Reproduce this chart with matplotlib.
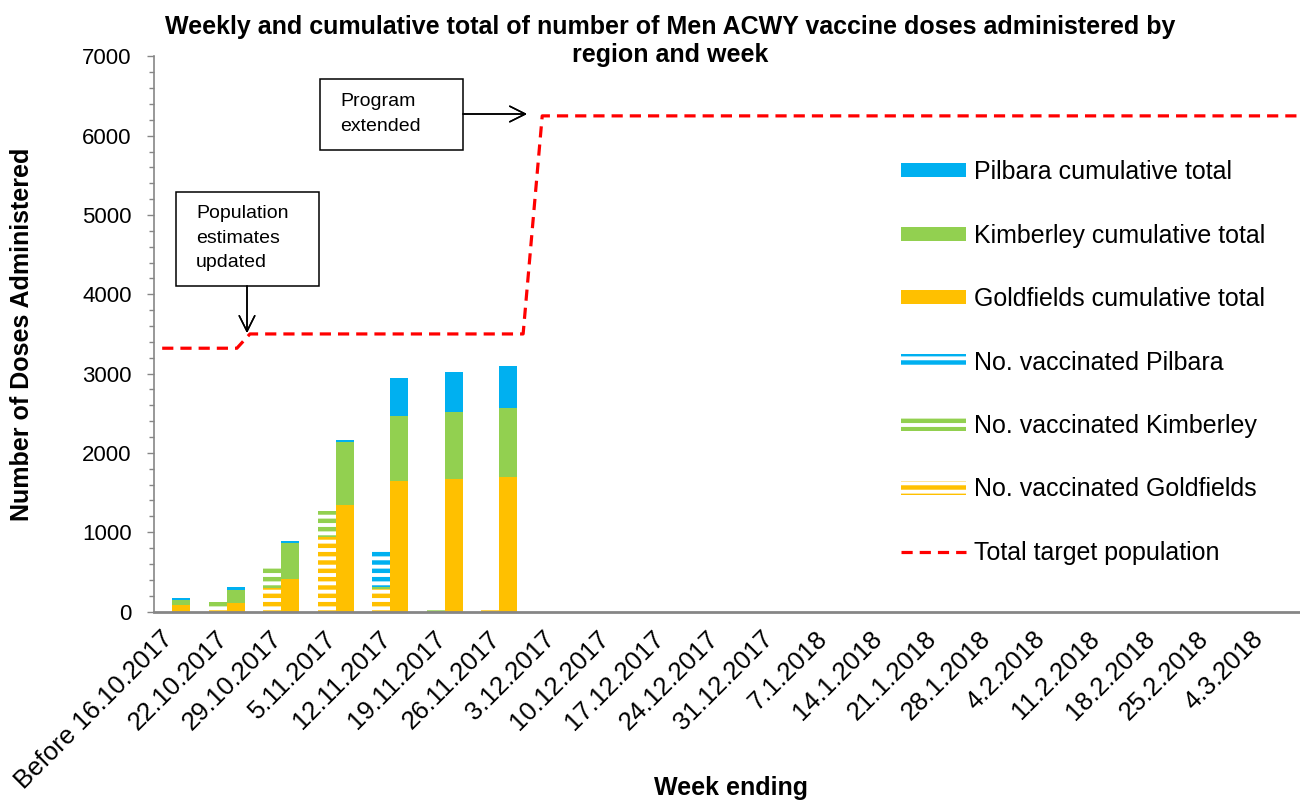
import numpy as np
import matplotlib.pyplot as plt
import matplotlib.transforms as mtransforms
from matplotlib.patches import Patch, Rectangle
from matplotlib.lines import Line2D

plt.rcParams['font.family'] = ['Liberation Sans', 'DejaVu Sans']
plt.rcParams['hatch.linewidth'] = 3.2

weeks = ['Before 16.10.2017', '22.10.2017', '29.10.2017', '5.11.2017', '12.11.2017',
         '19.11.2017', '26.11.2017', '3.12.2017', '10.12.2017', '17.12.2017',
         '24.12.2017', '31.12.2017', '7.1.2018', '14.1.2018', '21.1.2018',
         '28.1.2018', '4.2.2018', '11.2.2018', '18.2.2018', '25.2.2018', '4.3.2018']

# weeks with data so far (first 7)
gold_weekly = [0, 30, 295, 935, 290, 0, 25]
kimb_weekly = [0, 85, 287, 335, 25, 25, 0]
pilb_weekly = [0, 0, 0, 0, 460, 0, 0]

gold_cum = [80, 107, 406, 1343, 1645, 1671, 1700]
kimb_cum = [70, 168, 454, 798, 824, 845, 870]
pilb_cum = [25, 30, 25, 26, 479, 504, 530]

# target population line (x in week index units)
target_x = [-0.35, 1.02, 1.26, 6.27, 6.62, 20.5]
target_y = [3320, 3320, 3500, 3500, 6250, 6250]

c_pilb = '#00B0F0'
c_kimb = '#92D050'
c_gold = '#FFC000'

fig = plt.figure(figsize=(13, 8), dpi=100)
ax = fig.add_axes([154/1300, 1 - 611.5/800, 1145/1300, (611.5 - 56.4)/800])

x = np.arange(len(gold_cum))
w = 0.33

g_w = np.array(gold_weekly)
k_w = np.array(kimb_weekly)
p_w = np.array(pilb_weekly)
ax.bar(x - w, g_w, w, facecolor='white', edgecolor=c_gold, hatch='--', linewidth=0)
ax.bar(x - w, k_w, w, bottom=g_w, facecolor='white', edgecolor=c_kimb, hatch='--', linewidth=0)
ax.bar(x - w, p_w, w, bottom=g_w + k_w, facecolor='white', edgecolor=c_pilb, hatch='--', linewidth=0)

g_c = np.array(gold_cum)
k_c = np.array(kimb_cum)
p_c = np.array(pilb_cum)
ax.bar(x, g_c, w, color=c_gold)
ax.bar(x, k_c, w, bottom=g_c, color=c_kimb)
ax.bar(x, p_c, w, bottom=g_c + k_c, color=c_pilb)

ax.plot(target_x, target_y, color='#FF0000', lw=2.3, dashes=(3.5, 2.2), clip_on=True)

ax.set_xlim(-0.5, 20.5)
ax.set_ylim(0, 7000)
ax.set_yticks(np.arange(0, 7001, 1000))
ax.set_yticks(np.arange(0, 7001, 200), minor=True)
ax.tick_params(axis='y', which='major', direction='out', length=5, width=1, color='#868686',
               labelsize=16, pad=11)
ax.tick_params(axis='y', which='minor', direction='out', length=3.5, width=1, color='#868686')
ax.set_xticks(np.arange(len(weeks)))
ax.set_xticklabels(weeks, rotation=45, ha='right', va='center', rotation_mode='anchor', fontsize=18.5)
ax.tick_params(axis='x', length=0, pad=17)
offset = mtransforms.ScaledTranslation(-0.12, 0, fig.dpi_scale_trans)
for lab in ax.get_xticklabels():
    lab.set_transform(lab.get_transform() + offset)

for s in ['top', 'right']:
    ax.spines[s].set_visible(False)
ax.spines['left'].set_color('#868686')
ax.spines['left'].set_linewidth(1.2)
ax.spines['bottom'].set_color('#868686')
ax.spines['bottom'].set_linewidth(2)

handles = [
    Patch(facecolor=c_pilb, edgecolor='none'),
    Patch(facecolor=c_kimb, edgecolor='none'),
    Patch(facecolor=c_gold, edgecolor='none'),
    Patch(facecolor='white', edgecolor=c_pilb, hatch='--', linewidth=0),
    Patch(facecolor='white', edgecolor=c_kimb, hatch='--', linewidth=0),
    Patch(facecolor='white', edgecolor=c_gold, hatch='--', linewidth=0),
    Line2D([0], [0], color='#FF0000', lw=2.3, dashes=(3.5, 2.2)),
]
labels = ['Pilbara cumulative total', 'Kimberley cumulative total', 'Goldfields cumulative total',
          'No. vaccinated Pilbara', 'No. vaccinated Kimberley', 'No. vaccinated Goldfields',
          'Total target population']
fig.legend(handles, labels, loc='upper left', bbox_to_anchor=(901/1300, 1 - 160/800),
           frameon=False, fontsize=18, handlelength=2.6, handleheight=0.5,
           handletextpad=0.3, labelspacing=1.58, borderpad=0, borderaxespad=0)

# annotation boxes
fig.patches.append(Rectangle((176, 800 - 286), 143, 94, transform=None, fill=False,
                             edgecolor='black', linewidth=1.1))
fig.text(196 / 1300, 1 - 205 / 800, 'Population\nestimates\nupdated', fontsize=14,
         ha='left', va='top', linespacing=1.58)
fig.patches.append(Rectangle((320, 800 - 150), 143, 71, transform=None, fill=False,
                             edgecolor='black', linewidth=1.1))
fig.text(340 / 1300, 1 - 93 / 800, 'Program\nextended', fontsize=14,
         ha='left', va='top', linespacing=1.58)
fig.add_artist(plt.annotate('', xy=(247, 800 - 333), xytext=(247, 800 - 286),
                            xycoords='figure pixels', textcoords='figure pixels',
                            arrowprops=dict(arrowstyle='->', lw=1.1, color='black',
                                            mutation_scale=28, shrinkA=0, shrinkB=0)))
fig.add_artist(plt.annotate('', xy=(527, 800 - 114), xytext=(463, 800 - 114),
                            xycoords='figure pixels', textcoords='figure pixels',
                            arrowprops=dict(arrowstyle='->', lw=1.1, color='black',
                                            mutation_scale=28, shrinkA=0, shrinkB=0)))

fig.text(670 / 1300, 1 - 15 / 800,
         'Weekly and cumulative total of number of Men ACWY vaccine doses administered by\nregion and week',
         ha='center', va='top', fontsize=18, fontweight='bold', linespacing=1.2)
fig.text(22 / 1300, 1 - 334 / 800, 'Number of Doses Administered', rotation=90,
         ha='center', va='center', fontsize=18, fontweight='bold')
fig.text(731 / 1300, 1 - 788 / 800, 'Week ending', ha='center', va='center',
         fontsize=18, fontweight='bold')

fig.savefig('out.png', dpi=100)
